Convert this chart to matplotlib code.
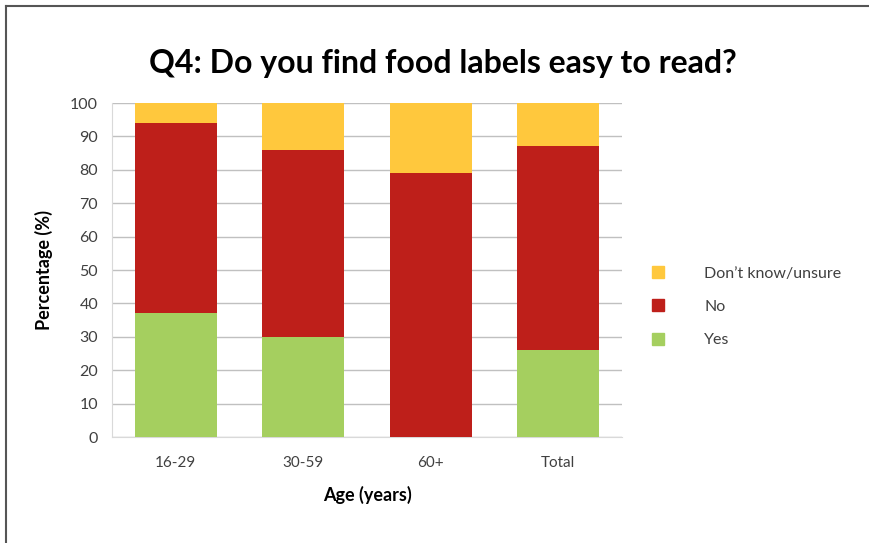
import numpy as np
import matplotlib
matplotlib.use('Agg')
import matplotlib.pyplot as plt
from matplotlib.lines import Line2D

# --- data ---
groups = ['16-29', '30-59', '60+', 'Total']
yes = [37, 30, 0, 26]
no = [57, 56, 79, 61]
unsure = [6, 14, 21, 13]

c_yes = '#A5CF5F'
c_no = '#BE1F1A'
c_unsure = '#FFC83D'

plt.rcParams['font.family'] = ['Lato', 'DejaVu Sans']

fig = plt.figure(figsize=(8.69, 5.43), dpi=100)
ax = fig.add_axes([0.1289, 0.1952, 0.5869, 0.6151])

x = np.arange(len(groups))
w = 0.64
yes_a = np.array(yes)
no_a = np.array(no)
ax.bar(x, yes_a, w, color=c_yes, zorder=3)
ax.bar(x, no_a, w, bottom=yes_a, color=c_no, zorder=3)
ax.bar(x, unsure, w, bottom=yes_a + no_a, color=c_unsure, zorder=3)

ax.set_xlim(-0.5, len(groups) - 0.5)
ax.set_ylim(0, 100)
ax.set_yticks(range(0, 101, 10))
ax.set_xticks(x)
ax.set_xticklabels(groups, fontsize=11, color='#404040')
ax.tick_params(axis='y', labelsize=11.5, labelcolor='#404040', length=0, pad=10)
ax.tick_params(axis='x', length=0, pad=14)
ax.yaxis.grid(True, color='#c0c0c0', linewidth=1, zorder=0)
ax.set_axisbelow(True)
for s in ['top', 'right']:
    ax.spines[s].set_visible(False)
ax.spines['left'].set_color('#d9d9d9')
ax.spines['bottom'].set_color('#d9d9d9')

ax.set_ylabel('Percentage (%)', fontsize=13, fontweight='bold', labelpad=12)
ax.set_xlabel('Age (years)', fontsize=13, fontweight='bold', labelpad=11)

fig.text(0.51, 0.883, 'Q4: Do you find food labels easy to read?',
         ha='center', va='center', fontsize=23, fontweight='bold')

handles = [Line2D([], [], marker='s', linestyle='none', markersize=8,
                  markerfacecolor=c, markeredgecolor=c)
           for c in [c_unsure, c_no, c_yes]]
fig.legend(handles, ["Don’t know/unsure", 'No', 'Yes'],
           loc='center left', bbox_to_anchor=(0.722, 0.435),
           frameon=False, fontsize=11.5, handletextpad=1.9,
           labelspacing=1.2, labelcolor='#404040')

# frame lines of the original image
fig.add_artist(Line2D([0.007, 0.007], [0, 0.989], color='#555555', lw=1.5))
fig.add_artist(Line2D([0.007, 1], [0.989, 0.989], color='#555555', lw=1.5))

fig.savefig('out.png', dpi=100)
